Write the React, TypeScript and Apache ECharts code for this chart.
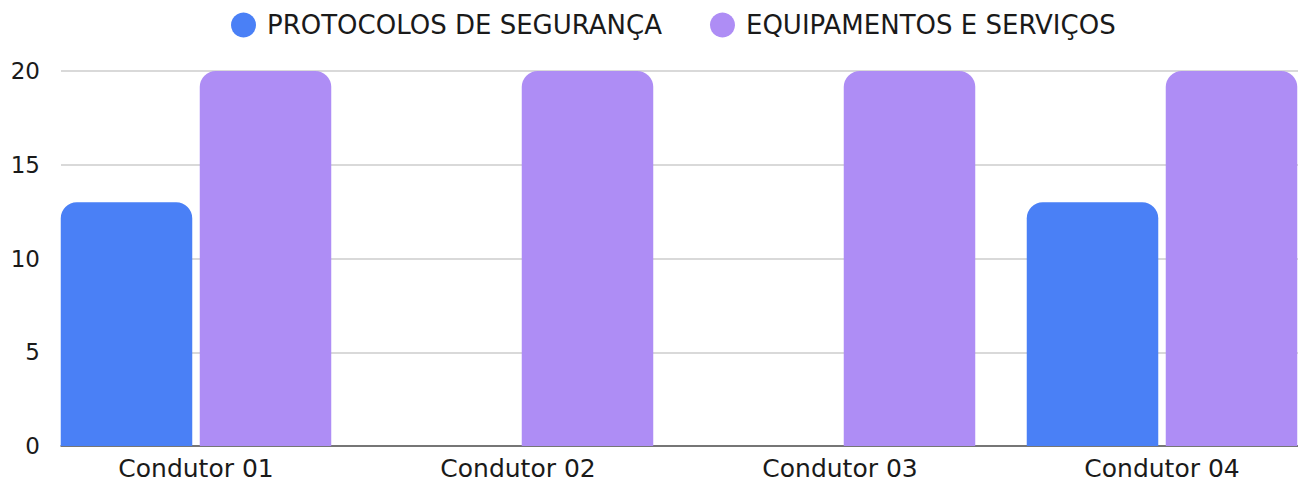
import React, { useEffect, useRef } from "react";
import * as echarts from "echarts";

const categories = ["Condutor 01", "Condutor 02", "Condutor 03", "Condutor 04"];
const seriesNames = ["PROTOCOLOS DE SEGURANÇA", "EQUIPAMENTOS E SERVIÇOS"];
const protocolos = [13, 0, 0, 13];
const equipamentos = [20, 20, 20, 20];
const yMin = 0;
const yMax = 20;
const yInterval = 5;

const FONT = "DejaVu Sans";
const TEXT = "#1a1a1a";

export default function App() {
  const ref = useRef<HTMLDivElement>(null);
  useEffect(() => {
    if (!ref.current) return;
    const chart = echarts.init(ref.current, undefined, { renderer: "svg" });
    chart.setOption({
      animation: false,
      backgroundColor: "#ffffff",
      textStyle: { fontFamily: FONT },
      legend: {
        top: 7,
        left: 226,
        itemWidth: 25,
        itemHeight: 25,
        itemGap: 48,
        icon: "circle",
        textStyle: { fontFamily: FONT, fontSize: 26, color: TEXT, padding: [0, 0, 4, 6] },
        data: seriesNames,
      },
      grid: [
        { left: 35, right: 0, top: 71, bottom: 35 },
        { left: 61, right: 25, top: 71, bottom: 35 },
      ],
      xAxis: [
        {
          type: "category",
          gridIndex: 0,
          data: categories,
          axisLine: { show: false },
          axisTick: { show: false },
          axisLabel: { fontFamily: FONT, fontSize: 25, lineHeight: 22, color: TEXT, margin: 11 },
        },
        {
          type: "category",
          gridIndex: 1,
          data: categories,
          axisLine: { show: true, lineStyle: { color: "#555555", width: 1.5 } },
          axisTick: { show: false },
          axisLabel: { show: false },
        },
      ],
      yAxis: [
        {
          type: "value",
          gridIndex: 0,
          min: yMin,
          max: yMax,
          interval: yInterval,
          axisLabel: { show: false },
          axisLine: { show: false },
          axisTick: { show: false },
          splitLine: { show: false },
        },
        {
          type: "value",
          gridIndex: 1,
          min: yMin,
          max: yMax,
          interval: yInterval,
          axisLabel: { fontFamily: FONT, fontSize: 23, color: TEXT, margin: 21 },
          axisLine: { show: false },
          axisTick: { show: false },
          splitLine: { show: true, lineStyle: { color: "#cccccc", width: 1.5 } },
        },
      ],
      series: [
        {
          name: seriesNames[0],
          type: "bar",
          xAxisIndex: 0,
          yAxisIndex: 0,
          data: protocolos,
          barWidth: 131.5,
          barGap: "5.7%",
          itemStyle: { color: "#4a80f6", borderRadius: [16, 16, 0, 0] },
        },
        {
          name: seriesNames[1],
          type: "bar",
          xAxisIndex: 0,
          yAxisIndex: 0,
          data: equipamentos,
          barWidth: 131.5,
          barGap: "5.7%",
          itemStyle: { color: "#ae8df5", borderRadius: [16, 16, 0, 0] },
        },
      ],
    });
    return () => chart.dispose();
  }, []);
  return (
    <div
      style={{
        position: "fixed",
        left: 0,
        top: 0,
        width: 1298,
        height: 481,
        overflow: "hidden",
        background: "#ffffff",
      }}
    >
      <div ref={ref} style={{ width: 1323, height: 481 }} />
    </div>
  );
}
